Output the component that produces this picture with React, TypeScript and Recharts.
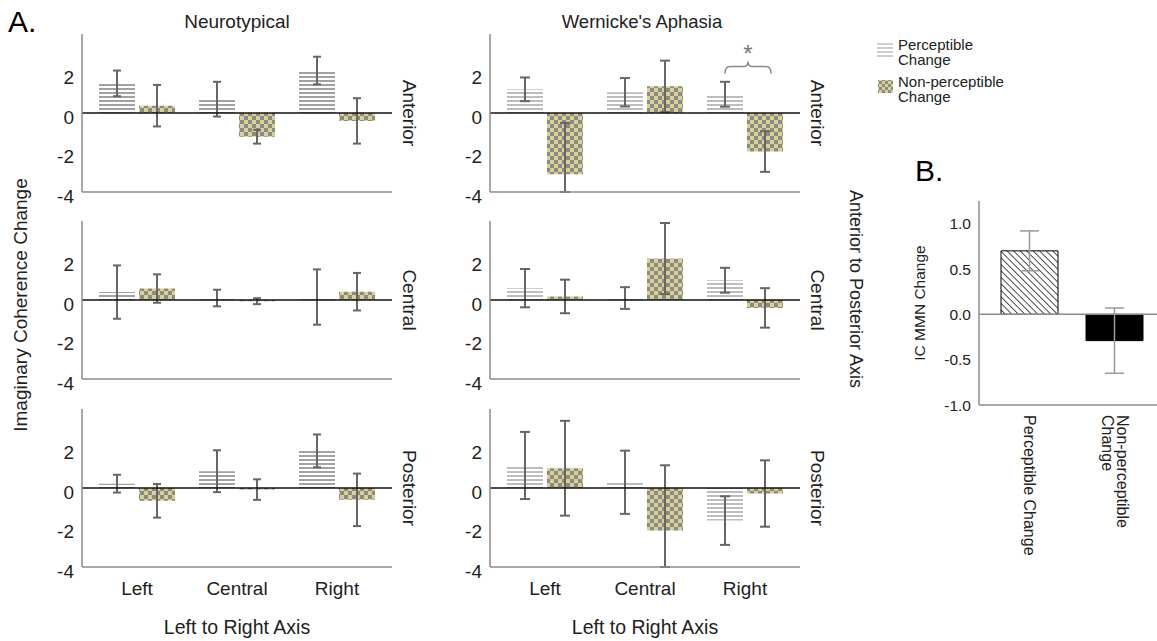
import React from 'react';
import { BarChart, Bar, XAxis, YAxis, ErrorBar, ReferenceLine, ReferenceDot, Cell } from 'recharts';

const FONT = "'Liberation Sans', Arial, Helvetica, sans-serif";

const regions = ['Left', 'Central', 'Right'];
const yTicksA = [-4, -2, 0, 2];
const yDomainA = [-4, 4];

// Neurotypical
const ntAnteriorPerc = [1.5, 0.7, 2.15];
const ntAnteriorPercErr = [0.65, 0.88, 0.7];
const ntAnteriorNon = [0.37, -1.2, -0.4];
const ntAnteriorNonErr = [1.05, 0.35, 1.15];

const ntCentralPerc = [0.4, 0.1, 0.15];
const ntCentralPercErr = [1.35, 0.42, 1.4];
const ntCentralNon = [0.58, -0.06, 0.42];
const ntCentralNonErr = [0.72, 0.15, 0.95];

const ntPosteriorPerc = [0.22, 0.85, 1.88];
const ntPosteriorPercErr = [0.45, 1.06, 0.83];
const ntPosteriorNon = [-0.65, -0.08, -0.6];
const ntPosteriorNonErr = [0.85, 0.52, 1.33];

// Wernicke's Aphasia
const waAnteriorPerc = [1.2, 1.05, 0.95];
const waAnteriorPercErr = [0.6, 0.72, 0.63];
const waAnteriorNon = [-3.1, 1.35, -1.95];
const waAnteriorNonErr = [2.6, 1.3, 1.03];

const waCentralPerc = [0.6, 0.1, 1.0];
const waCentralPercErr = [0.97, 0.55, 0.63];
const waCentralNon = [0.18, 2.1, -0.4];
const waCentralNonErr = [0.85, 1.8, 1.0];

const waPosteriorPerc = [1.14, 0.29, -1.65];
const waPosteriorPercErr = [1.7, 1.6, 1.23];
const waPosteriorNon = [1.0, -2.15, -0.28];
const waPosteriorNonErr = [2.4, 3.3, 1.68];

// Panel B
const bCategories = ['Perceptible Change', 'Non-perceptible Change'];
const bTickLines = [['Perceptible Change'], ['Non-perceptible', 'Change']];
const bValues = [0.7, -0.29];
const bErrors = [0.22, 0.36];
const bTicks = [-1, -0.5, 0, 0.5, 1];

// error whiskers are cut at the bottom of the axis range, as in the original figure
const clipErr = (v: number, e: number) => [Math.min(e, v - yDomainA[0]), Math.min(e, yDomainA[1] - v)];

const makeRows = (perc: number[], percErr: number[], non: number[], nonErr: number[]) =>
  regions.map((r, i) => ({
    region: r,
    perc: perc[i],
    percErr: clipErr(perc[i], percErr[i]),
    non: non[i],
    nonErr: clipErr(non[i], nonErr[i]),
  }));

const bRows = bCategories.map((c, i) => ({ cat: c, value: bValues[i], err: bErrors[i] }));

const YTickA = (props: any) => {
  const { x, y, payload } = props;
  return (
    <text x={x} y={y + 4} textAnchor="end" dominantBaseline="central" fontSize={19} fill="#222" fontFamily={FONT}>
      {payload.value}
    </text>
  );
};

const XTickA = (props: any) => {
  const { x, y, payload } = props;
  return (
    <text x={x} y={y + 13} textAnchor="middle" dominantBaseline="central" fontSize={19} fill="#222" fontFamily={FONT}>
      {payload.value}
    </text>
  );
};

const YTickB = (props: any) => {
  const { x, y, payload } = props;
  return (
    <text x={x} y={y} textAnchor="end" dominantBaseline="central" fontSize={15.5} fill="#222" fontFamily={FONT}>
      {Number(payload.value).toFixed(1)}
    </text>
  );
};

const XTickB = (props: any) => {
  const { x, y, payload, index } = props;
  const idx = typeof index === 'number' ? index : bCategories.indexOf(payload.value);
  const lines = bTickLines[idx] || [payload.value];
  const lh = 15;
  return (
    <g transform={`translate(${x},${y + 2}) rotate(90)`}>
      {lines.map((l, i) => (
        <text key={i} x={0} y={(i - (lines.length - 1) / 2) * lh} textAnchor="start" dominantBaseline="central" fontSize={16} fill="#222" fontFamily={FONT}>
          {l}
        </text>
      ))}
    </g>
  );
};

const Bracket = (props: any) => {
  const { cx, cy } = props;
  const c = cx + 3;
  const h = 23;
  return (
    <g>
      <path
        d={`M${c - h},${cy + 7} Q${c - h},${cy} ${c - h + 5},${cy} L${c - 4},${cy} Q${c},${cy} ${c},${cy - 5} Q${c},${cy} ${c + 4},${cy} L${c + h - 5},${cy} Q${c + h},${cy} ${c + h},${cy + 7}`}
        fill="none"
        stroke="#8a8a8a"
        strokeWidth={1.5}
      />
      <text x={c} y={cy - 13} textAnchor="middle" dominantBaseline="central" fontSize={24} fill="#777" fontFamily={FONT}>
        *
      </text>
    </g>
  );
};

type PanelProps = {
  id: string;
  rows: any[];
  left: number;
  plotTop: number;
  axisX: number;
  showX: boolean;
  stripeColor: string;
  capW: number;
  bracket?: boolean;
};

const Panel = ({ id, rows, left, plotTop, axisX, showX, stripeColor, capW, bracket }: PanelProps) => {
  const marginLeft = 20;
  const yW = axisX - left - marginLeft;
  const xh = showX ? 40 : 14;
  const width = axisX - left + 310 + 5;
  const height = 10 + 158 + xh;
  const stripeId = `stripe-${id}`;
  const checkId = `check-${id}`;
  return (
    <div style={{ position: 'absolute', left, top: plotTop - 10 }}>
      <BarChart
        width={width}
        height={height}
        data={rows}
        margin={{ top: 10, right: 5, bottom: 0, left: marginLeft }}
        barSize={36}
        barGap={4}
        style={{ fontFamily: FONT }}
      >
        <defs>
          <pattern id={stripeId} width={8} height={4} patternUnits="userSpaceOnUse">
            <rect x={0} y={0} width={8} height={4} fill="#ffffff" />
            <rect x={0} y={0} width={8} height={2} fill={stripeColor} />
          </pattern>
          <pattern id={checkId} width={8} height={8} patternUnits="userSpaceOnUse">
            <rect x={0} y={0} width={8} height={8} fill="#d7d196" />
            <rect x={0} y={0} width={4} height={4} fill="#8d8983" />
            <rect x={4} y={4} width={4} height={4} fill="#8d8983" />
          </pattern>
        </defs>
        <XAxis
          dataKey="region"
          height={xh}
          axisLine={{ stroke: '#8c8c8c', strokeWidth: 1.5 }}
          tickLine={false}
          tick={showX ? <XTickA /> : false}
          padding={{ left: 5, right: 5 }}
          interval={0}
        />
        <YAxis
          width={yW}
          domain={yDomainA}
          ticks={yTicksA}
          allowDataOverflow
          axisLine={{ stroke: '#8c8c8c', strokeWidth: 1.5 }}
          tickLine={false}
          tick={<YTickA />}
          interval={0}
        />
        <Bar dataKey="perc" fill={`url(#${stripeId})`} isAnimationActive={false}>
          <ErrorBar dataKey="percErr" width={capW} stroke="#666" strokeWidth={2} />
        </Bar>
        <Bar dataKey="non" fill={`url(#${checkId})`} isAnimationActive={false}>
          <ErrorBar dataKey="nonErr" width={capW} stroke="#666" strokeWidth={2} />
        </Bar>
        <ReferenceLine y={0} stroke="#111" strokeWidth={1.5} />
        {bracket ? <ReferenceDot x="Right" y={2.36} shape={Bracket} /> : null}
      </BarChart>
    </div>
  );
};

export default function App() {
  const ntTop = [34, 221, 409];
  const rowCenters = ntTop.map((t) => t + 79);
  const rowNames = ['Anterior', 'Central', 'Posterior'];
  return (
    <div style={{ position: 'absolute', left: 0, top: 0, width: 1157, height: 641, overflow: 'hidden', background: '#fff', fontFamily: FONT }}>
      <Panel id="nta" rows={makeRows(ntAnteriorPerc, ntAnteriorPercErr, ntAnteriorNon, ntAnteriorNonErr)} left={0} plotTop={ntTop[0]} axisX={82} showX={false} stripeColor="#a2a2a2" capW={4} />
      <Panel id="ntc" rows={makeRows(ntCentralPerc, ntCentralPercErr, ntCentralNon, ntCentralNonErr)} left={0} plotTop={ntTop[1]} axisX={82} showX={false} stripeColor="#a2a2a2" capW={4} />
      <Panel id="ntp" rows={makeRows(ntPosteriorPerc, ntPosteriorPercErr, ntPosteriorNon, ntPosteriorNonErr)} left={0} plotTop={ntTop[2]} axisX={82} showX={true} stripeColor="#a2a2a2" capW={4} />
      <Panel id="waa" rows={makeRows(waAnteriorPerc, waAnteriorPercErr, waAnteriorNon, waAnteriorNonErr)} left={410} plotTop={ntTop[0]} axisX={490} showX={false} stripeColor="#bdbdbd" capW={5} bracket />
      <Panel id="wac" rows={makeRows(waCentralPerc, waCentralPercErr, waCentralNon, waCentralNonErr)} left={410} plotTop={ntTop[1]} axisX={490} showX={false} stripeColor="#bdbdbd" capW={5} />
      <Panel id="wap" rows={makeRows(waPosteriorPerc, waPosteriorPercErr, waPosteriorNon, waPosteriorNonErr)} left={410} plotTop={ntTop[2]} axisX={490} showX={true} stripeColor="#bdbdbd" capW={5} />

      <div style={{ position: 'absolute', left: 900, top: 190 }}>
        <BarChart width={257} height={375} data={bRows} margin={{ top: 11, right: 0, bottom: 0, left: 0 }} barSize={57} style={{ fontFamily: FONT }}>
          <defs>
            <pattern id="hatchB" width={4.6} height={4.6} patternUnits="userSpaceOnUse" patternTransform="rotate(-45)">
              <rect x={0} y={0} width={4.6} height={4.6} fill="#ffffff" />
              <line x1={0} y1={0} x2={0} y2={4.6} stroke="#000" strokeWidth={1.4} />
            </pattern>
          </defs>
          <XAxis
            dataKey="cat"
            height={160}
            tickLine={false}
            axisLine={{ stroke: '#8c8c8c', strokeWidth: 1.5 }}
            tick={<XTickB />}
            padding={{ left: 8, right: 0 }}
            interval={0}
          />
          <YAxis
            width={79}
            domain={[-1, 1.25]}
            ticks={bTicks}
            allowDataOverflow
            axisLine={{ stroke: '#8c8c8c', strokeWidth: 1.5 }}
            tickLine={false}
            tick={<YTickB />}
            interval={0}
          />
          <ReferenceLine y={0} stroke="#8c8c8c" strokeWidth={1.5} />
          <Bar dataKey="value" isAnimationActive={false} stroke="#000" strokeWidth={1}>
            {bRows.map((r, i) => (
              <Cell key={r.cat} fill={i === 0 ? 'url(#hatchB)' : '#000'} />
            ))}
            <ErrorBar dataKey="err" width={9.5} stroke="#9a9a9a" strokeWidth={1.5} />
          </Bar>
        </BarChart>
      </div>

      <svg width={1157} height={641} style={{ position: 'absolute', left: 0, top: 0, pointerEvents: 'none' }} fontFamily={FONT}>
        <defs>
          <pattern id="legCheck" width={6} height={6} patternUnits="userSpaceOnUse">
            <rect x={0} y={0} width={6} height={6} fill="#d7d196" />
            <rect x={0} y={0} width={3} height={3} fill="#8d8983" />
            <rect x={3} y={3} width={3} height={3} fill="#8d8983" />
          </pattern>
        </defs>
        <text x={8} y={32} fontSize={30} fill="#000">A.</text>
        <text x={237} y={28} textAnchor="middle" fontSize={19} fill="#222">Neurotypical</text>
        <text x={642} y={28} textAnchor="middle" fontSize={18.5} fill="#222">Wernicke's Aphasia</text>

        {rowNames.map((n, i) => (
          <text key={'nt' + n} x={409} y={rowCenters[i]} transform={`rotate(90, 409, ${rowCenters[i]})`} textAnchor="middle" dominantBaseline="central" fontSize={19} fill="#222">{n}</text>
        ))}
        {rowNames.map((n, i) => (
          <text key={'wa' + n} x={817} y={rowCenters[i]} transform={`rotate(90, 817, ${rowCenters[i]})`} textAnchor="middle" dominantBaseline="central" fontSize={19} fill="#222">{n}</text>
        ))}

        <text x={856} y={289} transform="rotate(90, 856, 289)" textAnchor="middle" dominantBaseline="central" fontSize={18} fill="#222">Anterior to Posterior Axis</text>
        <text x={20} y={305} transform="rotate(-90, 20, 305)" textAnchor="middle" dominantBaseline="central" fontSize={19} fill="#222">Imaginary Coherence Change</text>

        <text x={237} y={634} textAnchor="middle" fontSize={19.5} fill="#222">Left to Right Axis</text>
        <text x={645} y={634} textAnchor="middle" fontSize={19.5} fill="#222">Left to Right Axis</text>

        {[44, 48, 52, 56].map((yy) => (
          <line key={yy} x1={877} x2={893} y1={yy} y2={yy} stroke="#c2c2c2" strokeWidth={1.6} />
        ))}
        <text x={898} y={50} fontSize={15} fill="#222">Perceptible</text>
        <text x={898} y={65} fontSize={15} fill="#222">Change</text>
        <rect x={878} y={80} width={15} height={13} fill="url(#legCheck)" />
        <text x={898} y={87} fontSize={15} fill="#222">Non-perceptible</text>
        <text x={898} y={102} fontSize={15} fill="#222">Change</text>

        <text x={915} y={181} fontSize={30} fill="#000">B.</text>
        <text x={919} y={303} transform="rotate(-90, 919, 303)" textAnchor="middle" dominantBaseline="central" fontSize={15.5} fill="#222">IC MMN Change</text>
      </svg>
    </div>
  );
}
